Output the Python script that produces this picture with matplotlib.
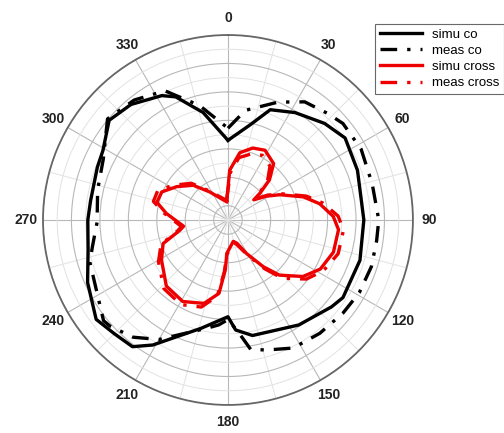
import numpy as np
import matplotlib
matplotlib.use("Agg")
import matplotlib.pyplot as plt

plt.rcParams['font.family'] = ['Liberation Sans', 'DejaVu Sans']

# angles in degrees (clockwise from top), levels in dB
simu_co_ang = [0, 13, 21, 32, 45, 55, 69, 90, 107, 124, 130, 146, 168, 176, 180,
               194, 211, 217, 225, 233, 246, 258, 270, 278, 292, 299, 310, 320,
               332, 337, 347, 360]
simu_co_db = [-14.8, -12.3, -9.4, -8.2, -6.8, -5.9, -6.5, -6.9, -6.6, -6.5, -7.0,
              -8.2, -9.4, -10.5, -12.4, -10.3, -5.5, -3.7, -3.4, -2.8, -4.4, -5.9,
              -6.3, -6.5, -6.2, -5.9, -4.2, -4.8, -6.2, -7.2, -10.5, -14.8]

meas_co_ang = [0, 9, 23, 33, 43, 50, 62, 76, 90, 98, 108, 119, 129, 141, 153, 163,
               170, 175, 180, 185, 191, 199, 210, 219, 228, 231, 253, 259, 269, 283,
               296, 310, 322, 334, 346, 360]
meas_co_db = [-13.1, -10.4, -8.0, -6.2, -5.5, -4.9, -4.8, -5.1, -4.8, -4.9, -4.8,
              -4.9, -5.2, -5.5, -5.8, -6.9, -7.5, -10.3, -12.0, -11.2, -10.5, -9.3,
              -6.6, -4.8, -3.7, -3.5, -5.7, -6.6, -7.6, -7.2, -6.5, -3.9, -4.6, -5.8,
              -9.4, -13.1]

simu_x_ang = [-4, 2, 10, 19, 28, 39, 46, 50, 52, 58, 64, 73, 80, 88, 95, 107, 118,
              127, 137, 143, 151, 159, 166, 176, 182, 183, 187, 196, 209, 223, 239,
              250, 258, 262, 276, 284, 293, 303, 315, 327, 347, 356]
simu_x_db = [-23.4, -19.0, -16.4, -15.3, -14.9, -15.8, -17.9, -20.1, -21.4, -19.7,
             -17.9, -14.9, -12.9, -11.2, -10.4, -10.5, -11.3, -12.8, -15.4, -17.8,
             -20.6, -22.5, -22.9, -22.1, -21.3, -19.0, -15.6, -13.8, -12.9, -13.3,
             -15.1, -16.3, -19.1, -19.7, -17.3, -15.7, -15.9, -17.4, -19.1, -21.3,
             -23.1, -23.4]

meas_x_ang = [-4, 3, 10, 19, 28, 38, 46, 52, 58, 64, 73, 80, 88, 95, 107, 118, 127,
              137, 143, 151, 160, 166, 176, 182, 184, 188, 197, 209, 223, 239, 250,
              258, 262, 276, 284, 293, 303, 315, 327, 347, 356]
meas_x_db = [-23.2, -19.3, -17.1, -16.2, -15.7, -16.4, -18.3, -21.2, -19.4, -17.6,
             -14.5, -12.4, -10.5, -9.7, -9.8, -10.8, -12.2, -14.8, -17.4, -20.4,
             -22.3, -22.8, -21.9, -21.1, -18.7, -15.2, -13.2, -12.4, -12.8, -14.6,
             -16.0, -18.8, -19.4, -17.0, -15.2, -15.3, -17.0, -18.7, -21.1, -22.9,
             -23.2]

r_min, r_max = -26, 0
tick_angles = [0, 30, 60, 90, 120, 150, 180, 210, 240, 270, 300, 330]

fig = plt.figure(figsize=(5.04, 4.33), dpi=100)
ax = fig.add_axes([0.0853, 0.0647, 0.734, 0.8545], projection='polar')
ax.set_theta_zero_location('N')
ax.set_theta_direction(-1)
ax.set_ylim(r_min, r_max)

dashdot = (0, (5, 3, 1, 3))
ax.plot(np.deg2rad(simu_co_ang), simu_co_db, color='black', lw=2.4, label='simu co')
ax.plot(np.deg2rad(meas_co_ang), meas_co_db, color='black', lw=2.4, ls=dashdot, label='meas co')
ax.plot(np.deg2rad(simu_x_ang), simu_x_db, color='#ee0000', lw=2.4, label='simu cross')
ax.plot(np.deg2rad(meas_x_ang), meas_x_db, color='#ee0000', lw=2.4, ls=dashdot, label='meas cross')

ax.set_xticks(np.deg2rad(tick_angles))
ax.set_xticklabels([str(a) for a in tick_angles], fontsize=10, fontweight='bold', color='#222222')
ax.set_xticks(np.deg2rad(np.arange(15, 360, 30)), minor=True)
ax.set_yticks(np.arange(-24, 1, 4))
ax.set_yticks(np.arange(-22, 0, 4), minor=True)
ax.set_yticklabels([])
ax.tick_params(axis='x', pad=1.5)
ax.tick_params(axis='x', which='minor', length=0)
ax.tick_params(axis='y', which='both', length=0)
ax.grid(True, which='major', color='#b8b8b8', lw=0.8)
ax.grid(True, which='minor', color='#e2e2e2', lw=0.7)
ax.set_axisbelow(True)
ax.spines['polar'].set_color('#666666')
ax.spines['polar'].set_linewidth(1.3)

leg = fig.legend(loc='upper left', bbox_to_anchor=(0.744, 0.945), fontsize=9.5,
                 frameon=True, fancybox=False, edgecolor='#444444', handlelength=3.2,
                 borderpad=0.35, labelspacing=0.3, handletextpad=0.8, borderaxespad=0)
leg.get_frame().set_linewidth(0.8)

fig.savefig('out.png', dpi=100)
